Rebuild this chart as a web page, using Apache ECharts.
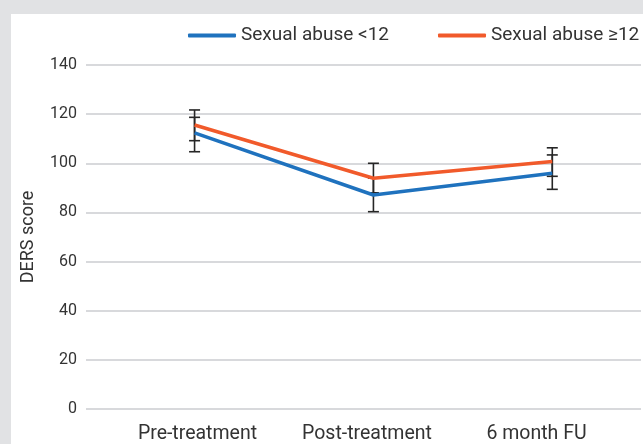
<!DOCTYPE html>
<html>
<head>
<meta charset="utf-8">
<script src="https://cdn.jsdelivr.net/npm/echarts@6/dist/echarts.min.js"></script>
<style>
html,body{margin:0;padding:0;background:#e1e2e4;width:643px;height:444px;overflow:hidden;}
#c{position:absolute;left:11px;top:14px;width:632px;height:430px;background:#ffffff;}
</style>
</head>
<body>
<div id="c"></div>
<script>
// Categories and tick labels
var categories = ['Pre-treatment', 'Post-treatment', '6 month FU'];
var seriesNames = ['Sexual abuse <12', 'Sexual abuse \u226512'];
var yTicks = [0, 20, 40, 60, 80, 100, 120, 140];

// Mean DERS scores
var abuseUnder12 = [112.4, 87.1, 95.9];
var abuse12Plus = [115.6, 93.9, 100.7];

// Error bar bounds [low, high]
var abuseUnder12Err = [[104.7, 118.7], [80.3, 94.0], [89.4, 103.4]];
var abuse12PlusErr = [[109.2, 121.7], [88.0, 100.0], [94.7, 106.3]];

var colors = ['#1f72be', '#f15a2b'];
var font = 'Roboto, "Liberation Sans", sans-serif';

function lineData(vals) {
  return vals.map(function (v, i) { return [i, v]; });
}
function errData(errs) {
  return errs.map(function (e, i) { return [i, e[0], e[1]]; });
}
function renderErr(params, api) {
  var x = api.value(0);
  var lo = api.coord([x, api.value(1)]);
  var hi = api.coord([x, api.value(2)]);
  var hw = 5.5;
  var st = { stroke: '#262626', lineWidth: 1.6 };
  return {
    type: 'group',
    children: [
      { type: 'line', shape: { x1: lo[0], y1: lo[1], x2: hi[0], y2: hi[1] }, style: st },
      { type: 'line', shape: { x1: lo[0] - hw, y1: lo[1], x2: lo[0] + hw, y2: lo[1] }, style: st },
      { type: 'line', shape: { x1: hi[0] - hw, y1: hi[1], x2: hi[0] + hw, y2: hi[1] }, style: st }
    ]
  };
}

var chart = echarts.init(document.getElementById('c'), null, { renderer: 'canvas' });
chart.setOption({
  animation: false,
  color: colors,
  textStyle: { fontFamily: font },
  legend: {
    data: seriesNames,
    left: 177,
    top: 12,
    width: 600,
    padding: 0,
    icon: 'roundRect',
    itemWidth: 48,
    itemHeight: 4,
    itemGap: 49,
    textStyle: { fontSize: 19, color: '#333333', fontFamily: font }
  },
  grid: [
    { left: 73, right: 2, top: 51, bottom: 35 },
    { left: 101.75, right: 21.75, top: 51, bottom: 35 }
  ],
  xAxis: [
    { type: 'value', gridIndex: 0, min: -0.607, max: 2.496, show: false, splitLine: { show: false } },
    {
      type: 'category', gridIndex: 1, data: categories, boundaryGap: true,
      axisLine: { show: false }, axisTick: { show: false },
      axisLabel: { fontSize: 19.5, color: '#333333', margin: 16, fontFamily: font }
    }
  ],
  yAxis: [
    {
      type: 'value', gridIndex: 0, min: yTicks[0], max: yTicks[yTicks.length - 1], interval: 20,
      axisLine: { show: false }, axisTick: { show: false },
      axisLabel: { fontSize: 16, color: '#333333', margin: 9, fontFamily: font },
      splitLine: { lineStyle: { color: '#cbcdd0', width: 1.5 } },
      name: 'DERS score', nameLocation: 'middle', nameGap: 49,
      nameTextStyle: { fontSize: 18, color: '#333333', fontFamily: font }
    },
    { type: 'value', gridIndex: 1, show: false, min: 0, max: 140 }
  ],
  series: [
    {
      name: seriesNames[0] + ' err', type: 'custom', xAxisIndex: 0, yAxisIndex: 0,
      renderItem: renderErr, data: errData(abuseUnder12Err), z: 1, silent: true
    },
    {
      name: seriesNames[1] + ' err', type: 'custom', xAxisIndex: 0, yAxisIndex: 0,
      renderItem: renderErr, data: errData(abuse12PlusErr), z: 1, silent: true
    },
    {
      name: seriesNames[0], type: 'line', xAxisIndex: 0, yAxisIndex: 0,
      data: lineData(abuseUnder12), symbol: 'none', z: 3,
      lineStyle: { color: colors[0], width: 3.5 }, itemStyle: { color: colors[0] }
    },
    {
      name: seriesNames[1], type: 'line', xAxisIndex: 0, yAxisIndex: 0,
      data: lineData(abuse12Plus), symbol: 'none', z: 4,
      lineStyle: { color: colors[1], width: 3.5 }, itemStyle: { color: colors[1] }
    }
  ]
});
</script>
</body>
</html>
